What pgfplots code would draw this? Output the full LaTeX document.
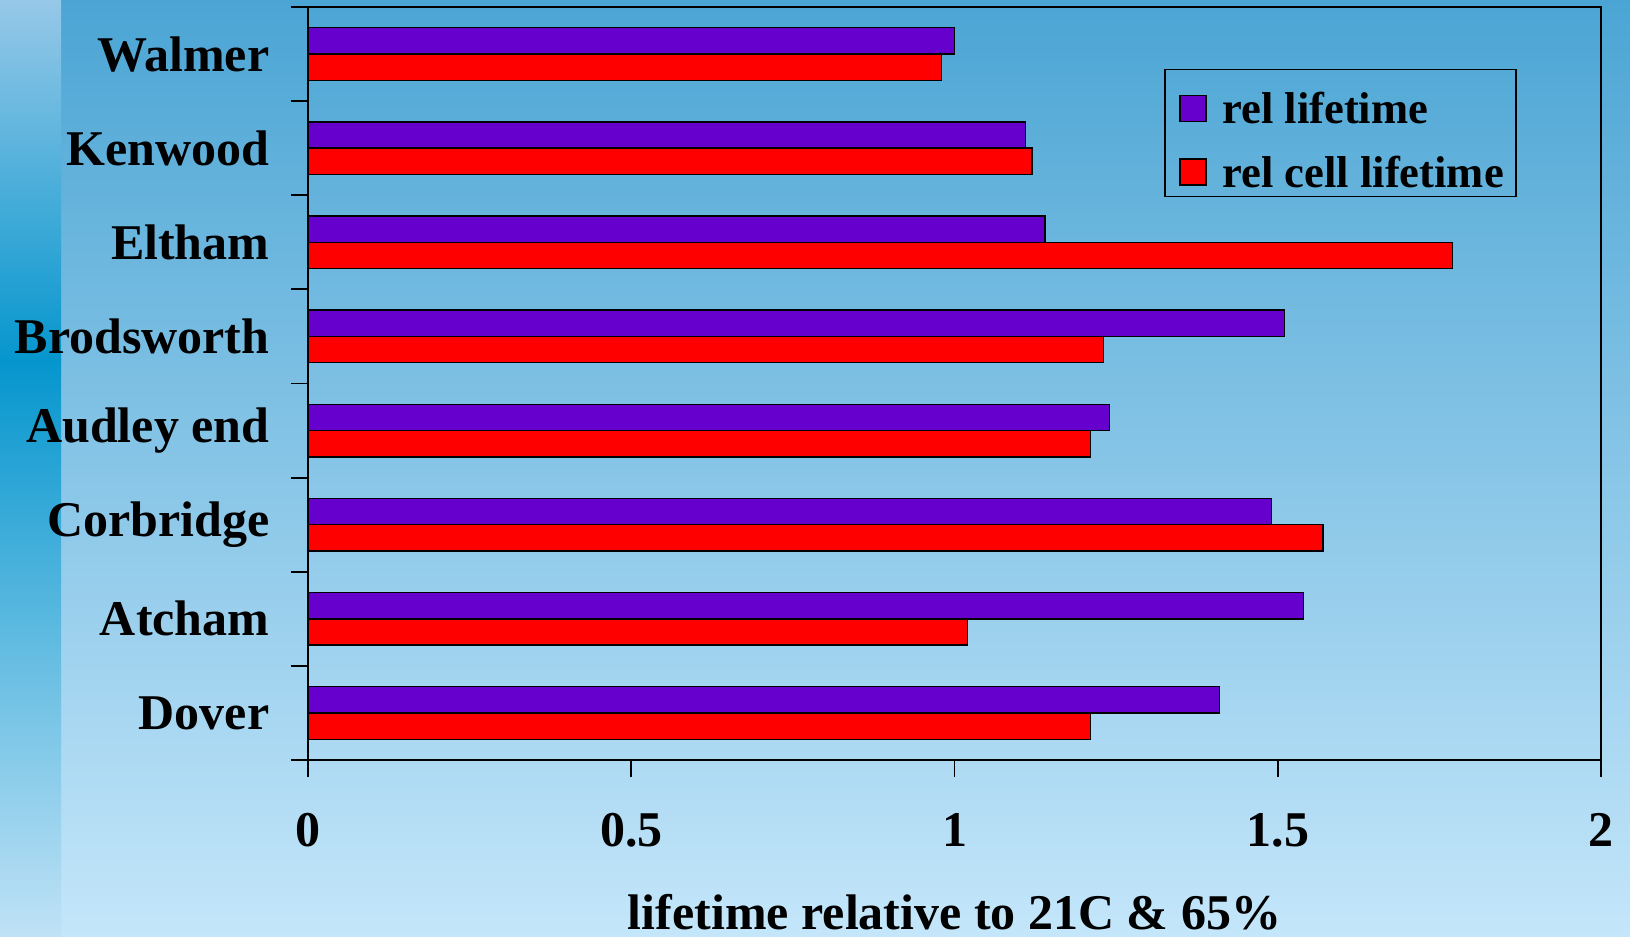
\documentclass[border=0pt]{standalone}
\usepackage{fontspec}
\setmainfont{Liberation Serif}
\usepackage{pgfplots}
\pgfplotsset{compat=1.18}
\definecolor{bgtop}{RGB}{75,165,212}
\definecolor{bgbot}{RGB}{196,230,250}
\definecolor{striptop}{RGB}{150,200,232}
\definecolor{stripmid}{RGB}{5,150,205}
\definecolor{stripbot}{RGB}{192,226,246}
\definecolor{relpurple}{RGB}{102,0,204}
\definecolor{relred}{RGB}{255,0,0}
\newcommand{\bigfont}{\fontsize{25bp}{29bp}\selectfont\bfseries}
\newcommand{\legfont}{\fontsize{22.3bp}{26bp}\selectfont\bfseries}
\begin{document}
\begin{tikzpicture}
\shade[top color=bgtop, bottom color=bgbot] (0,0) rectangle (815bp,468.5bp);
\shade[top color=striptop, bottom color=stripmid] (0,288bp) rectangle (30.5bp,468.5bp);
\shade[top color=stripmid, bottom color=stripbot] (0,0) rectangle (30.5bp,288.5bp);
\begin{axis}[
  at={(154bp,88.5bp)}, anchor=south west,
  scale only axis, width=646.5bp, height=376.5bp,
  xbar,
  bar width=0.28,
  xmin=0, xmax=2, ymin=-0.5, ymax=7.5,
  axis line style={line width=0.9bp, black},
  tick style={line width=0.9bp, black},
  tick align=outside, major tick length=8.5bp,
  xtick pos=bottom, ytick pos=left,
  xtick={0,0.5,1,1.5,2}, xticklabels={0,0.5,1,1.5,2},
  xticklabel style={font=\bigfont, anchor=base, yshift=-34.5bp},
  ytick={-0.5,0.5,...,7.5}, yticklabels={},
  extra y ticks={0,1,2,3,4,5,6,7},
  extra y tick labels={Dover,Atcham,Corbridge,Audley end,Brodsworth,Eltham,Kenwood,Walmer},
  extra y tick style={tick style={draw=none}, yticklabel style={font=\bigfont, anchor=east, xshift=-7.3bp}},
  xlabel={lifetime relative to 21C \& 65\%},
  xlabel style={font=\bigfont, at={(axis description cs:0.5,0)}, anchor=base, yshift=-84.5bp, text depth=0pt, inner sep=0pt},
  legend image code/.code={%
    \path[draw=none, fill=none] (0bp,0bp) -- (22.8bp,0bp);
    \draw[#1, line width=0.8bp] (3.6bp,-10.1bp) rectangle (16.6bp,2.9bp);},
  legend style={at={(axis description cs:0.662,0.918)}, anchor=north west,
    draw=black, line width=0.8bp, fill=none, font=\legfont,
    inner xsep=4bp, inner ysep=2.5bp, row sep=5bp,
    nodes={inner sep=2bp, text height=22.7bp, text depth=0bp}},
  legend cell align=left,
]
\addplot[fill=relpurple, draw=black, line width=0.7bp, bar shift=0.14] coordinates {
 (1.41,0) (1.54,1) (1.49,2) (1.24,3) (1.51,4) (1.14,5) (1.11,6) (1.00,7)};
\addplot[fill=relred, draw=black, line width=0.7bp, bar shift=-0.14] coordinates {
 (1.21,0) (1.02,1) (1.57,2) (1.21,3) (1.23,4) (1.77,5) (1.12,6) (0.98,7)};
\legend{rel lifetime, rel cell lifetime}
\end{axis}
\pgfresetboundingbox
\useasboundingbox (0,0) rectangle (815bp,468.5bp);
\end{tikzpicture}
\end{document}
